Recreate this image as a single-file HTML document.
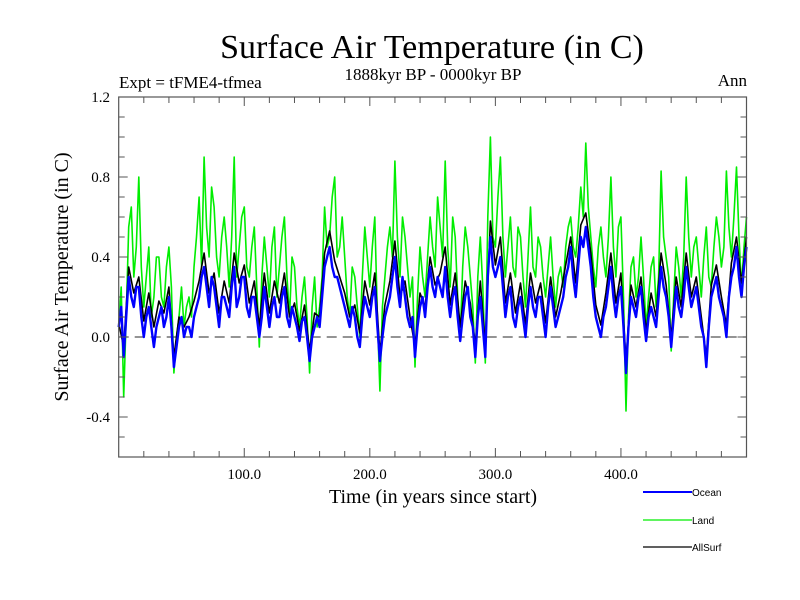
<!DOCTYPE html>
<html><head><meta charset="utf-8"><style>
body{margin:0;background:#fff}
svg{display:block;font-family:"Liberation Serif",serif}
</style></head><body>
<svg id="chart" width="800" height="600" viewBox="0 0 800 600">
<text x="432" y="58" font-size="34" text-anchor="middle">Surface Air Temperature (in C)</text>
<text x="119" y="88" font-size="17">Expt = tFME4-tfmea</text>
<text x="433" y="80" font-size="17" text-anchor="middle">1888kyr BP - 0000kyr BP</text>
<text x="747" y="86" font-size="17" text-anchor="end">Ann</text>
<text transform="translate(68,277) rotate(-90)" font-size="20" text-anchor="middle">Surface Air Temperature (in C)</text>
<text x="433" y="503" font-size="20" text-anchor="middle">Time (in years since start)</text>
<g id="plot"></g>
<g id="axes"></g>
<g id="legend" font-family="Liberation Sans, sans-serif" font-size="10">
<line x1="643" y1="492" x2="692" y2="492" stroke="#0000ff" stroke-width="2"/>
<text x="692" y="496">Ocean</text>
<line x1="643" y1="520" x2="692" y2="520" stroke="#00ee00" stroke-width="1.2"/>
<text x="692" y="524">Land</text>
<line x1="643" y1="547" x2="692" y2="547" stroke="#000" stroke-width="1.2"/>
<text x="692" y="551">AllSurf</text>
</g>
</svg>
<script>
const yearStart = 0;
const yearEnd = 500;
const land = [0.05,0.25,-0.3,0.1,0.55,0.65,0.3,0.45,0.8,0.35,0.15,0.3,0.45,0.1,0.2,0.4,0.4,0.2,0.15,0.35,0.45,0.25,-0.18,0.0,0.1,0.25,0.05,0.15,0.2,0.1,0.35,0.5,0.7,0.35,0.9,0.55,0.4,0.75,0.65,0.4,0.3,0.5,0.6,0.45,0.25,0.5,0.9,0.3,0.45,0.6,0.65,0.35,0.3,0.45,0.55,0.25,-0.05,0.3,0.5,0.35,0.2,0.45,0.55,0.2,0.35,0.5,0.6,0.3,0.1,0.4,0.35,0.15,0.05,0.2,0.3,0.1,-0.18,0.15,0.3,0.05,0.15,0.3,0.65,0.45,0.5,0.7,0.8,0.4,0.45,0.6,0.4,0.2,0.1,0.35,0.3,0.15,0.0,0.3,0.55,0.4,0.25,0.45,0.6,0.1,-0.27,0.15,0.3,0.45,0.55,0.4,0.88,0.5,0.3,0.6,0.5,0.35,0.2,0.3,-0.15,0.2,0.45,0.3,0.2,0.4,0.6,0.45,0.35,0.7,0.55,0.4,0.88,0.45,0.25,0.6,0.5,0.2,0.0,0.35,0.55,0.45,0.3,0.15,-0.13,0.3,0.5,0.25,-0.13,0.6,1.0,0.5,0.45,0.7,0.9,0.5,0.3,0.45,0.6,0.35,0.3,0.55,0.5,0.3,0.15,0.4,0.65,0.35,0.3,0.5,0.45,0.3,0.2,0.35,0.5,0.3,0.15,0.3,0.35,0.25,0.45,0.55,0.6,0.45,0.4,0.55,0.75,0.6,0.97,0.65,0.5,0.35,0.25,0.45,0.55,0.4,0.3,0.5,0.8,0.45,0.3,0.55,0.6,0.2,-0.37,0.1,0.35,0.4,0.2,0.3,0.5,0.3,0.05,0.2,0.35,0.4,0.15,0.3,0.83,0.5,0.4,0.3,-0.07,0.2,0.45,0.35,0.2,0.4,0.8,0.5,0.3,0.45,0.5,0.35,0.2,0.4,0.55,0.3,0.25,0.45,0.6,0.5,0.35,0.45,0.83,0.55,0.4,0.6,0.85,0.5,0.25,0.45,0.6];
const ocean = [0.05,0.15,-0.1,0.1,0.3,0.2,0.15,0.25,0.25,0.1,0.0,0.1,0.15,0.05,-0.05,0.05,0.1,0.15,0.05,0.1,0.2,0.05,-0.15,-0.05,0.05,0.1,0.0,0.05,0.05,0.0,0.1,0.15,0.2,0.3,0.35,0.25,0.15,0.3,0.25,0.15,0.05,0.2,0.2,0.15,0.1,0.25,0.35,0.15,0.2,0.3,0.3,0.15,0.1,0.2,0.2,0.1,0.0,0.1,0.25,0.15,0.05,0.15,0.2,0.1,0.1,0.2,0.25,0.1,0.05,0.15,0.1,0.05,-0.02,0.08,0.1,0.0,-0.12,0.0,0.05,0.1,0.05,0.2,0.35,0.4,0.45,0.35,0.3,0.3,0.25,0.2,0.15,0.1,0.05,0.15,0.1,0.0,-0.05,0.1,0.2,0.15,0.1,0.2,0.25,0.05,-0.12,0.0,0.1,0.15,0.2,0.3,0.4,0.25,0.15,0.3,0.2,0.1,0.05,0.1,-0.1,0.05,0.15,0.2,0.1,0.25,0.35,0.25,0.2,0.3,0.25,0.2,0.35,0.2,0.1,0.2,0.25,0.1,-0.02,0.1,0.2,0.25,0.1,0.05,-0.1,0.1,0.2,0.05,-0.1,0.3,0.5,0.35,0.3,0.35,0.4,0.25,0.1,0.2,0.25,0.1,0.05,0.15,0.2,0.1,0.0,0.15,0.25,0.15,0.1,0.2,0.2,0.1,0.0,0.15,0.25,0.15,0.05,0.1,0.15,0.2,0.3,0.35,0.45,0.3,0.2,0.35,0.5,0.45,0.55,0.45,0.35,0.2,0.1,0.05,0.0,0.1,0.15,0.25,0.35,0.2,0.1,0.2,0.25,0.05,-0.18,0.05,0.2,0.15,0.1,0.2,0.25,0.1,-0.02,0.1,0.15,0.1,0.05,0.2,0.35,0.25,0.2,0.1,-0.05,0.1,0.25,0.15,0.1,0.2,0.35,0.25,0.15,0.2,0.25,0.15,0.05,0.0,-0.15,0.05,0.2,0.25,0.3,0.2,0.15,0.1,0.0,0.2,0.3,0.35,0.45,0.3,0.2,0.35,0.45];
const allsurf = [0.07,-0.05,0.35,0.22,0.3,0.08,0.22,0.05,0.18,0.12,0.25,-0.1,0.1,0.05,0.1,0.18,0.28,0.42,0.22,0.32,0.12,0.28,0.17,0.42,0.27,0.36,0.17,0.28,0.05,0.32,0.12,0.28,0.17,0.32,0.1,0.17,0.03,0.16,-0.07,0.12,0.1,0.42,0.53,0.38,0.3,0.22,0.1,0.16,0.02,0.28,0.16,0.32,-0.08,0.16,0.28,0.48,0.2,0.28,0.1,-0.05,0.22,0.15,0.4,0.26,0.32,0.45,0.16,0.32,0.05,0.28,0.17,-0.04,0.28,-0.04,0.58,0.36,0.5,0.17,0.32,0.12,0.27,0.06,0.32,0.17,0.27,0.07,0.3,0.1,0.22,0.36,0.5,0.27,0.56,0.62,0.42,0.16,0.06,0.22,0.42,0.17,0.32,-0.12,0.26,0.15,0.3,0.03,0.22,0.1,0.42,0.26,0.0,0.3,0.15,0.42,0.2,0.3,0.1,-0.1,0.26,0.36,0.2,0.06,0.37,0.5,0.27,0.5];
const yTicks = [1.2,0.8,0.4,0.0,-0.4];
const yTickLabels = ["1.2","0.8","0.4","0.0","-0.4"];
const xTicks = [100,200,300,400];
const xTickLabels = ["100.0","200.0","300.0","400.0"];

const X0=118.7,X1=746.5,Y0=97,Y1=457;
const xs = v => X0 + (v-0)/(500-0)*(X1-X0);
const ys = v => Y1 - (v-(-0.6))/(1.2-(-0.6))*(Y1-Y0);
const NS="http://www.w3.org/2000/svg";
const plot=document.getElementById('plot'), axes=document.getElementById('axes');
function mk(tag,attrs,parent){const e=document.createElementNS(NS,tag);for(const k in attrs)e.setAttribute(k,attrs[k]);parent.appendChild(e);return e;}

const zl=mk('line',{x1:X0,x2:X1,y1:ys(0),y2:ys(0),stroke:'#555','stroke-width':1.2,'stroke-dasharray':'10,6'},plot);



function series(vals,color,w,name){
  const n=vals.length-1;
  const d=vals.map((v,i)=>(i?'L':'M')+xs(yearStart+(yearEnd-yearStart)*i/n).toFixed(1)+','+ys(v).toFixed(1)).join('');
  const p=mk('path',{d:d,fill:'none',stroke:color,'stroke-width':w,'stroke-linejoin':'round'},plot);
  
  
}
series(land,'#00ee00',1.6,'land-series');
series(allsurf,'#000000',1.6,'allsurf-series');
series(ocean,'#0000ff',2.4,'ocean-series');

mk('rect',{x:X0,y:Y0,width:X1-X0,height:Y1-Y0,fill:'none',stroke:'#555','stroke-width':1.2},axes);
for(let k=-6;k<=12;k++){
  const y=ys(k/10), major=(k%4===0);
  const L=major?9:6;
  mk('line',{x1:X0,x2:X0+L,y1:y,y2:y,stroke:'#555'},axes);
  mk('line',{x1:X1,x2:X1-L,y1:y,y2:y,stroke:'#555'},axes);
}
for(let v=20;v<500;v+=20){
  const x=xs(v), major=v%100===0, L=major?9:6;
  mk('line',{x1:x,x2:x,y1:Y1,y2:Y1-L,stroke:'#555'},axes);
  mk('line',{x1:x,x2:x,y1:Y0,y2:Y0+L,stroke:'#555'},axes);
}
yTicks.forEach((v,i)=>{
  const t=mk('text',{x:110,y:ys(v)+5,'font-size':15,'text-anchor':'end'},axes);
  t.textContent=yTickLabels[i];
  
  
});
xTicks.forEach((v,i)=>{
  const t=mk('text',{x:xs(v),y:Y1+22,'font-size':15,'text-anchor':'middle'},axes);
  t.textContent=xTickLabels[i];
  
  
});
</script>
</body></html>
